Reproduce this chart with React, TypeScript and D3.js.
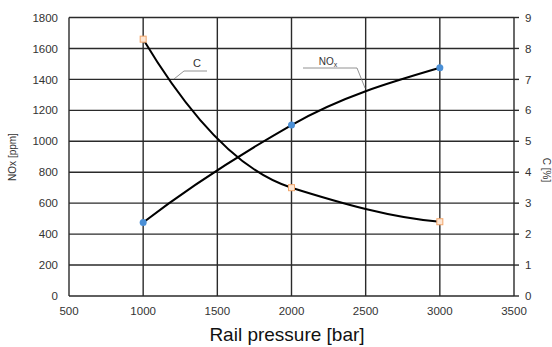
import React, { useEffect } from 'react';
import * as d3 from 'd3';

// rail pressure [bar]
const pressure = [1000, 2000, 3000];
// NOx [ppm]
const noxValues = [475, 1105, 1475];
// NOx curve slope read at each point [ppm per bar]
const noxSlopes = [0.74, 0.55, 0.28];
// C [%]
const cValues = [8.3, 3.5, 2.4];
// C curve slope read at each point [% per bar]
const cSlopes = [-0.008, -0.0015, -0.0004];

const xTicks = [500, 1000, 1500, 2000, 2500, 3000, 3500];
const yTicks = [0, 200, 400, 600, 800, 1000, 1200, 1400, 1600, 1800];
const cTicks = [0, 1, 2, 3, 4, 5, 6, 7, 8, 9];

const W = 552;
const H = 347;
const font = '"Liberation Sans", Arial, sans-serif';

// cubic hermite through the points, tangents given in data units
function hermitePath(
  xs: number[], ys: number[], ms: number[],
  sx: d3.ScaleLinear<number, number>, sy: d3.ScaleLinear<number, number>
) {
  const p = d3.path();
  p.moveTo(sx(xs[0]), sy(ys[0]));
  for (let i = 0; i < xs.length - 1; i++) {
    const h = (xs[i + 1] - xs[i]) / 3;
    p.bezierCurveTo(
      sx(xs[i] + h), sy(ys[i] + ms[i] * h),
      sx(xs[i + 1] - h), sy(ys[i + 1] - ms[i + 1] * h),
      sx(xs[i + 1]), sy(ys[i + 1])
    );
  }
  return p.toString();
}

export default function App() {
  useEffect(() => {
    document.body.style.margin = '0';
  }, []);

  const x = d3.scaleLinear().domain([500, 3500]).range([69, 514]);
  const y = d3.scaleLinear().domain([0, 1800]).range([296, 17.5]);
  const yC = d3.scaleLinear().domain([0, 9]).range([296, 17.5]);

  const [x0, x1] = x.range();
  const [y0, y1] = y.range();

  return (
    <svg width={W} height={H} style={{ display: 'block', background: '#fff' }} fontFamily={font}>
      {/* grid */}
      <g stroke="#2a2a2a" strokeWidth={1.4}>
        {yTicks.map(t => (
          <line key={'h' + t} x1={x0} x2={x1} y1={y(t)} y2={y(t)} />
        ))}
        {xTicks.map(t => (
          <line key={'v' + t} x1={x(t)} x2={x(t)} y1={y0} y2={y1} />
        ))}
        {cTicks.map(t => (
          <line key={'r' + t} x1={x1} x2={x1 + 5} y1={yC(t)} y2={yC(t)} />
        ))}
      </g>

      {/* left tick labels */}
      <g fontSize={11.5} fill="#333" textAnchor="end">
        {yTicks.map(t => (
          <text key={t} x={58} y={y(t)} dy="0.36em">{t}</text>
        ))}
      </g>
      {/* right tick labels */}
      <g fontSize={11.5} fill="#333" textAnchor="start">
        {cTicks.map(t => (
          <text key={t} x={525} y={yC(t)} dy="0.36em">{t}</text>
        ))}
      </g>
      {/* bottom tick labels */}
      <g fontSize={11.5} fill="#333" textAnchor="middle">
        {xTicks.map(t => (
          <text key={t} x={x(t)} y={315}>{t}</text>
        ))}
      </g>

      {/* axis titles */}
      <text x={287} y={341} fontSize={19} textAnchor="middle" fill="#111">Rail pressure [bar]</text>
      <text transform="translate(16,157) rotate(-90)" fontSize={10} textAnchor="middle" fill="#333">NOx [ppm]</text>
      <text transform="translate(543,170) rotate(90)" fontSize={10} textAnchor="middle" fill="#333">C [%]</text>

      {/* curves */}
      <path d={hermitePath(pressure, noxValues, noxSlopes, x, y)} fill="none" stroke="#000" strokeWidth={2} />
      <path d={hermitePath(pressure, cValues, cSlopes, x, yC)} fill="none" stroke="#000" strokeWidth={2} />

      {/* markers */}
      {noxValues.map((v, i) => (
        <circle key={'n' + i} cx={x(pressure[i])} cy={y(v)} r={3.5} fill="#4a8fd6" />
      ))}
      {cValues.map((v, i) => (
        <rect key={'c' + i} x={x(pressure[i]) - 3} y={yC(v) - 3} width={6} height={6}
          fill="#fce6d4" stroke="#f2a66b" strokeWidth={1} />
      ))}

      {/* annotations */}
      <g stroke="#777" strokeWidth={0.8} fill="none">
        <polyline points="174,79 184,71 207,71" />
        <polyline points="303,68 357,68 365,88" />
      </g>
      <text x={197} y={67} fontSize={11} textAnchor="middle" fill="#333">C</text>
      <text x={328} y={65} fontSize={10} textAnchor="middle" fill="#333">
        NO<tspan fontSize={7} dy={2}>x</tspan>
      </text>
    </svg>
  );
}
